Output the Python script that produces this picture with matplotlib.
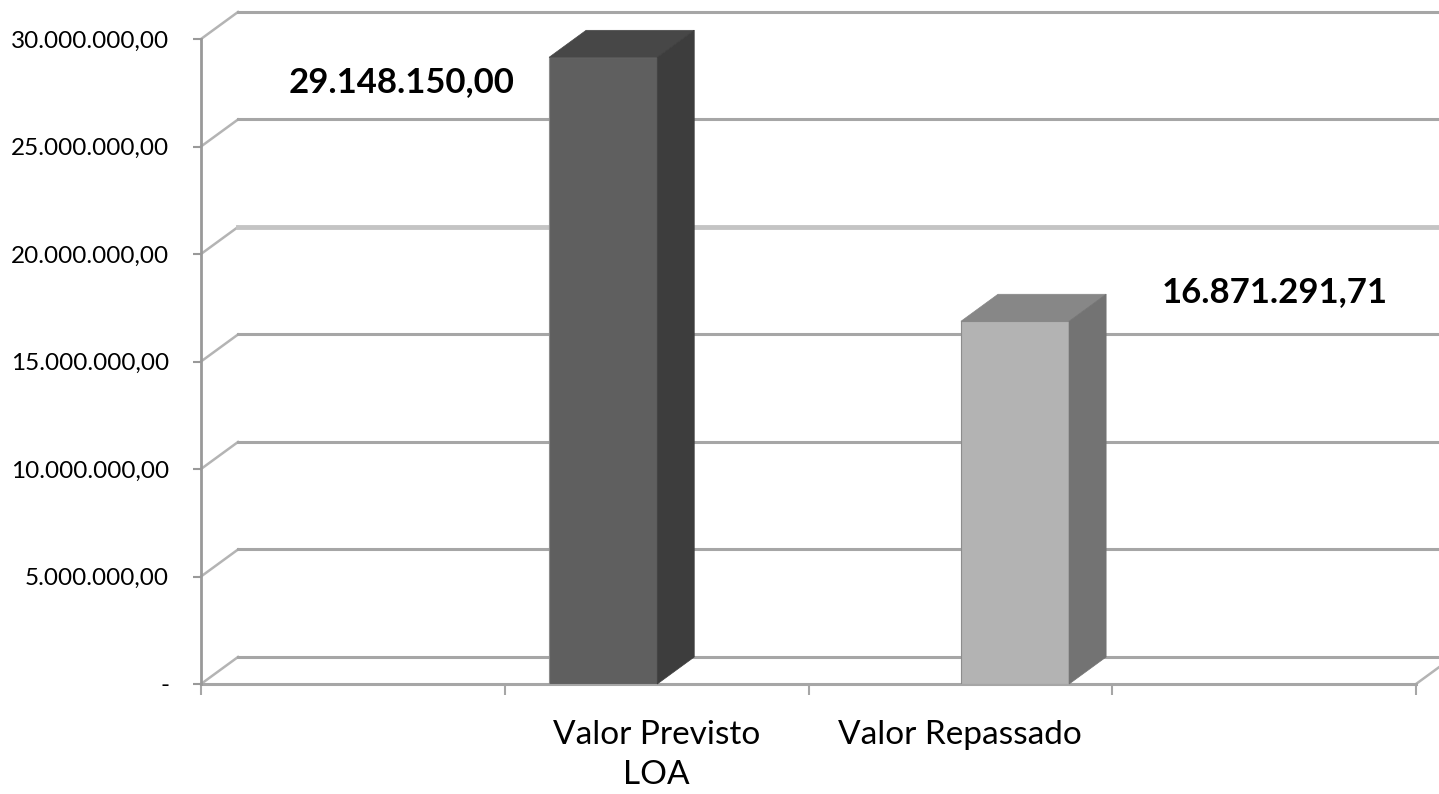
import numpy as np
import matplotlib
matplotlib.use("Agg")
import matplotlib.pyplot as plt
from matplotlib.patches import Polygon
from matplotlib.ticker import FuncFormatter

plt.rcParams['font.family'] = ['Lato', 'DejaVu Sans']

# dados
categorias = ['Valor Previsto\nLOA', 'Valor Repassado']
valores = [29148150.00, 16871291.71]
rotulos = ['29.148.150,00', '16.871.291,71']
y_ticks = [0, 5e6, 10e6, 15e6, 20e6, 25e6, 30e6]

# cores das faces (frente, topo, lado)
cores = [('#5f5f5f', '#474747', '#3d3d3d'),
         ('#b3b3b3', '#878787', '#737373')]

# layout do "3D"
n_slots = 4
bar_x = [1.146, 2.502]   # borda esquerda das barras, em unidades de categoria
bar_w = 0.356
dx, dy = 0.1218, 1.256e6  # profundidade
grid_col = '#a6a6a6'

def fmt_br(v, pos=None):
    if v == 0:
        return '-'
    s = f"{v:,.2f}"
    return s.replace(',', 'X').replace('.', ',').replace('X', '.')

fig = plt.figure(figsize=(14.39, 7.94), dpi=100)
ax = fig.add_axes([201/1439, 110/794, 1215/1439, 645/794])
ax.set_xlim(0, n_slots)
ax.set_ylim(0, 30e6)

# parede do fundo: linhas de grade com diagonal
x_end = 4.2
for v in y_ticks:
    lw = 2.2
    c = grid_col
    if v == 20e6:
        lw, c = 3.5, '#c4c4c4'
    ax.plot([0, dx], [v, v + dy], color='#b4b4b4', lw=1.8, clip_on=False, zorder=1)
    ax.plot([dx, x_end], [v + dy, v + dy], color=c, lw=lw, clip_on=False, zorder=1)
# diagonal do chao a direita
ax.plot([n_slots, n_slots + dx], [0, dy], color='#b4b4b4', lw=1.8, clip_on=False, zorder=1)

# barras
for i, (x0, v) in enumerate(zip(bar_x, valores)):
    front, top, side = cores[i]
    ax.bar(x0, v, width=bar_w, align='edge', color=front, edgecolor='#8c8c8c',
           linewidth=0.8, zorder=3)
    ax.add_patch(Polygon([(x0, v), (x0 + dx, v + dy), (x0 + bar_w + dx, v + dy),
                          (x0 + bar_w, v)], closed=True, facecolor=top,
                         edgecolor=top, lw=0.5, zorder=3, clip_on=False))
    ax.add_patch(Polygon([(x0 + bar_w, 0), (x0 + bar_w + dx, dy),
                          (x0 + bar_w + dx, v + dy), (x0 + bar_w, v)], closed=True,
                         facecolor=side, edgecolor=side, lw=0.5, zorder=3, clip_on=False))

# rotulos de dados
offsets = [(-145, -17.5), (187, 21)]
for x0, v, txt, off in zip(bar_x, valores, rotulos, offsets):
    ax.annotate(txt, (x0 + bar_w / 2, v), xytext=off, textcoords='offset points',
                ha='center', va='center', fontsize=25, fontweight='bold',
                color='black', zorder=5)

# eixos
for s in ['top', 'right']:
    ax.spines[s].set_visible(False)
ax.spines['left'].set_color('#999999')
ax.spines['left'].set_linewidth(2)
ax.spines['bottom'].set_color('#a6a6a6')
ax.spines['bottom'].set_linewidth(2.2)
ax.spines['left'].set_zorder(4)

ax.set_yticks(y_ticks)
ax.yaxis.set_major_formatter(FuncFormatter(fmt_br))
ax.tick_params(axis='y', length=6, width=1.5, color='#999999', pad=17,
               labelsize=17.5, labelcolor='black')

ax.set_xticks(np.arange(n_slots + 1))
ax.set_xticklabels([])
ax.tick_params(axis='x', which='major', length=8, width=1.5, color='#a6a6a6')
ax.set_xticks([1.5, 2.5], minor=True)
ax.set_xticklabels(categorias, minor=True, fontsize=24, color='black',
                   linespacing=1.4)
ax.tick_params(axis='x', which='minor', length=0, pad=26)

fig.savefig('out.png', dpi=100)
